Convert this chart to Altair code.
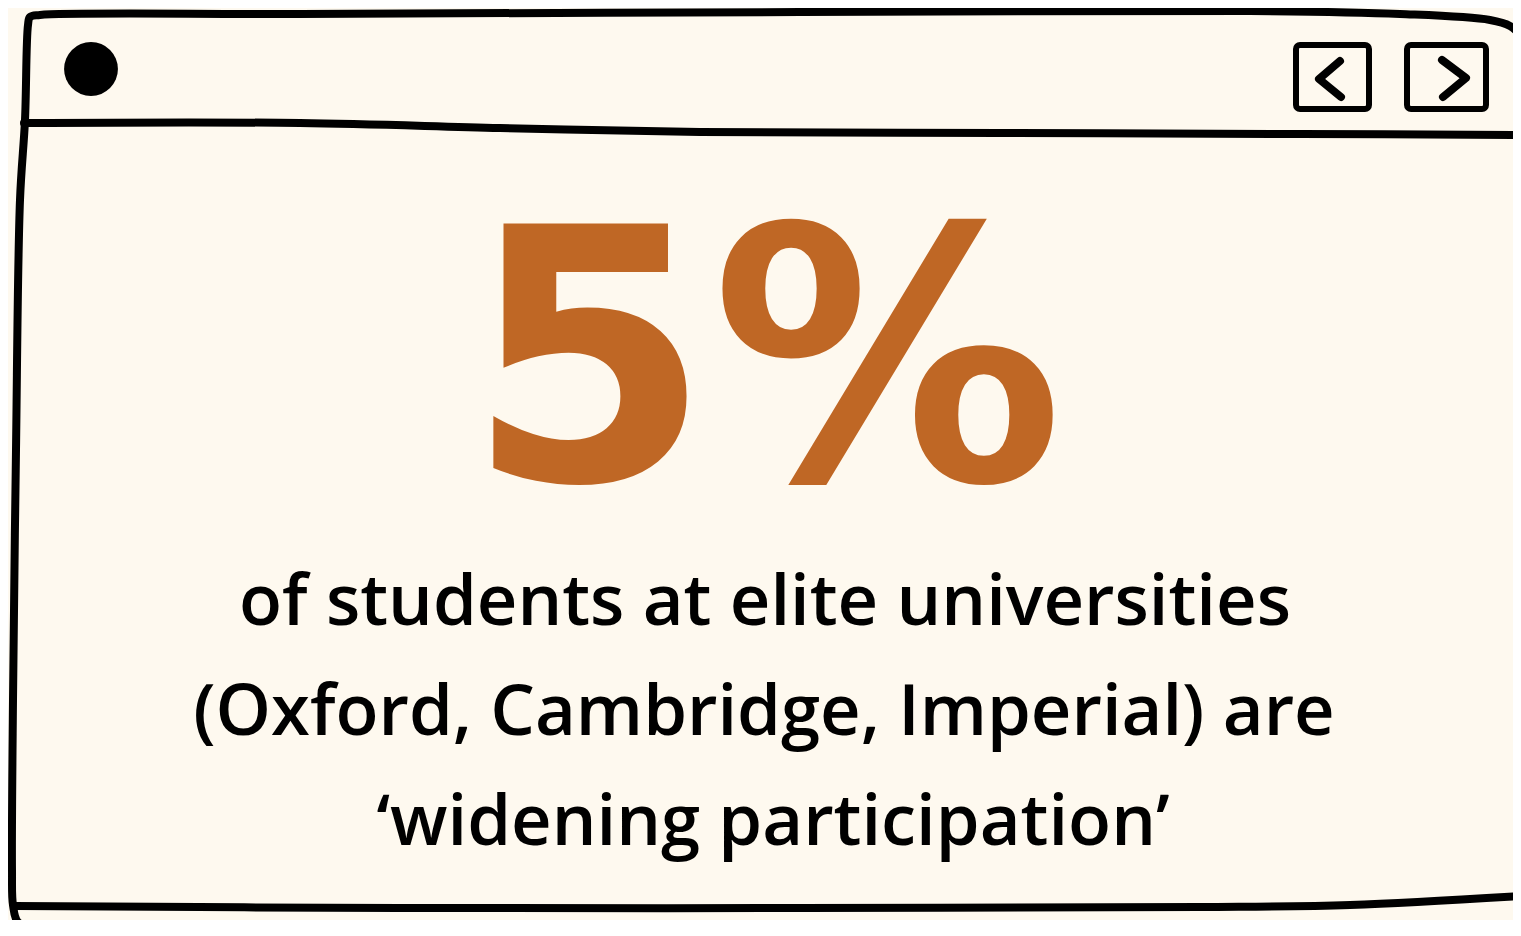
import altair as alt
import pandas as pd

# ---- data (reference pixel coordinates of the drawing) ----
BG = "#FEF9EF"
ORANGE = "#BF6725"
INK = "#000000"

# outer hand-drawn frame
outer_x = [1521, 1510, 1490, 1400, 1250, 800, 300, 40, 30, 28, 25, 20, 16, 13, 12, 13, 18, 40, 300, 800, 1350, 1513, 1521]
outer_y = [36, 26, 20, 14, 11, 12, 14, 15, 17, 25, 120, 200, 450, 700, 870, 905, 922, 928, 934, 937, 935, 928, 926]
# header separator line
header_x = [24, 300, 500, 700, 1000, 1300, 1521]
header_y = [123, 123, 128, 132, 133, 134, 135]
# inner bottom line
bottom_x = [15, 400, 800, 1200, 1350, 1521]
bottom_y = [906, 908, 908, 907, 905, 896]
# chevrons
left_chev_x = [1340, 1319, 1341]
left_chev_y = [61, 79, 97]
right_chev_x = [1442, 1466, 1443]
right_chev_y = [60, 78, 97]
# buttons (x, x2, y, y2)
btn_x = [1296, 1407]
btn_x2 = [1369, 1486]
btn_y = [45, 45]
btn_y2 = [109, 109]
# dot
dot_x = [91]
dot_y = [69]

big_text = ["5%"]
big_x = [765]
big_y = [480]

lines_text = [
    "of students at elite universities",
    "(Oxford, Cambridge, Imperial) are",
    "\u2018widening participation\u2019",
]
lines_x = [765, 764, 773]
lines_y = [625, 735, 845]

# ---- frames ----
def path_df(name, xs, ys):
    return pd.DataFrame({"x": xs, "y": ys, "seg": name, "i": list(range(len(xs)))})

frame_df = pd.concat([
    path_df("outer", outer_x, outer_y),
    path_df("header", header_x, header_y),
    path_df("bottom", bottom_x, bottom_y),
])
chev_df = pd.concat([
    path_df("left", left_chev_x, left_chev_y),
    path_df("right", right_chev_x, right_chev_y),
])
btn_df = pd.DataFrame({"x": btn_x, "x2": btn_x2, "y": btn_y, "y2": btn_y2})
dot_df = pd.DataFrame({"x": dot_x, "y": dot_y})
big_df = pd.DataFrame({"x": big_x, "y": big_y, "t": big_text})
txt_df = pd.DataFrame({"x": lines_x, "y": lines_y, "t": lines_text})

W, H = 1505, 912
X0, Y0 = 8, 8
xs = alt.Scale(domain=[X0, X0 + W], nice=False, zero=False)
ys = alt.Scale(domain=[Y0, Y0 + H], nice=False, zero=False, reverse=True)
X = lambda f="x": alt.X(f, type="quantitative", scale=xs, axis=None)
Y = lambda f="y": alt.Y(f, type="quantitative", scale=ys, axis=None)

frame = alt.Chart(frame_df).mark_line(
    color=INK, strokeWidth=8, strokeCap="round", strokeJoin="round",
    interpolate="catmull-rom", clip=True
).encode(x=X(), y=Y(), detail="seg:N", order="i:Q")

chev = alt.Chart(chev_df).mark_line(
    color=INK, strokeWidth=8, strokeCap="round", strokeJoin="round", clip=True
).encode(x=X(), y=Y(), detail="seg:N", order="i:Q")

btns = alt.Chart(btn_df).mark_rect(
    filled=False, stroke=INK, strokeWidth=6, cornerRadius=4, clip=True
).encode(x=X("x"), x2="x2", y=Y("y"), y2="y2")

dot = alt.Chart(dot_df).mark_point(
    shape="circle", filled=True, color=INK, size=2900, opacity=1, clip=True
).encode(x=X(), y=Y())

big = alt.Chart(big_df).mark_text(
    font="DejaVu Sans", fontWeight="bold", fontSize=352, color=ORANGE,
    align="center", baseline="alphabetic", clip=True
).encode(x=X(), y=Y(), text="t:N")

txt = alt.Chart(txt_df).mark_text(
    font="Open Sans", fontWeight=600, fontSize=70.5, color=INK,
    align="center", baseline="alphabetic", clip=True
).encode(x=X(), y=Y(), text="t:N")

chart = alt.layer(frame, chev, btns, dot, big, txt).properties(
    width=W, height=H, padding=0,
    autosize=alt.AutoSizeParams(type="fit", contains="padding"),
    background=BG,
).configure_view(stroke=None)

chart.save("out.html", embed_options={"renderer": "svg", "actions": False})
